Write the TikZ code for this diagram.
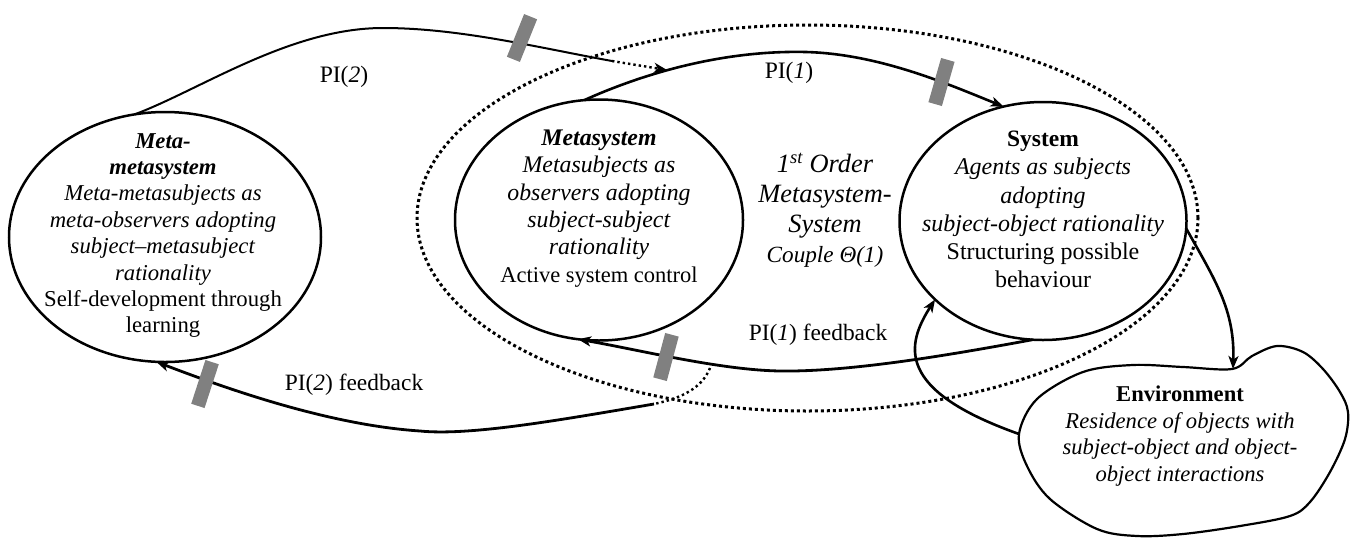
\documentclass[tikz,border=0pt]{standalone}
\usepackage{fontspec}
\setmainfont{Liberation Serif}
\usetikzlibrary{shapes.geometric,arrows.meta}
\definecolor{barGray}{HTML}{808080}
\begin{document}
\begin{tikzpicture}[x=1pt,y=-1pt,
  ell/.style={draw, ellipse, line width=2.5pt, inner sep=0pt, outer sep=0pt},
  couplering/.style={draw, ellipse, line width=3pt, dash pattern=on 3pt off 3pt, inner sep=0pt},
  txt/.style={align=center, inner sep=0pt},
  tip/.style={-{Stealth[length=13pt,width=10pt,inset=3.5pt]}},
  conn/.style={line width=2.6pt, tip},
  thinconn/.style={line width=2pt},
  dotconn/.style={line width=2.4pt, dash pattern=on 2.4pt off 3pt},
  graybar/.style={fill=barGray, draw=none, minimum width=14pt, minimum height=46pt, inner sep=0pt},
  blob/.style={draw, line width=2.2pt},
]
\useasboundingbox (0,0) rectangle (1350,539);

% first order couple (dotted)
\node[couplering, minimum width=781pt, minimum height=386pt] (couple) at (807.5,218) {};

% ellipses
\node[ell, minimum width=312pt, minimum height=250pt] (mm) at (165,237) {};
\node[ell, minimum width=288pt, minimum height=241pt] (ms) at (599,220) {};
\node[ell, minimum width=287pt, minimum height=238pt] (sys) at (1043,221) {};

% environment blob
\draw[blob] plot[smooth cycle, tension=0.55] coordinates {
 (1019,434) (1037,399) (1083,372) (1133,365) (1183,367) (1232,369)
 (1252,356) (1277,346) (1303,352) (1323,369) (1340,392) (1348,412)
 (1345,439) (1330,472) (1310,502) (1290,516) (1240,526) (1183,534)
 (1137,536) (1097,529) (1050,499) (1027,466)};
\coordinate (envL) at (1019,434);
\coordinate (envT) at (1233,369);

% helper coordinates
\coordinate (pi2cross) at (612,61);
\coordinate (pi2end) at (667,70);
\coordinate (pi2fbstart) at (710,368);
\coordinate (pi2fbcross) at (654,404);

% PI(2)
\draw[thinconn] (mm.104) .. controls (200,90) and (290,28) .. (383,28)
  .. controls (460,28) and (540,48) .. (pi2cross);
\draw[dotconn, tip] (pi2cross) -- (pi2end);

% PI(1)
\draw[conn] (ms.97) .. controls (640,75) and (720,50) .. (806,52)
  .. controls (880,54) and (950,85) .. (sys.109);

% PI(1) feedback
\draw[conn, line width=2.8pt] (sys.265) .. controls (950,355) and (850,372) .. (780,371)
  .. controls (720,370) and (640,350) .. (ms.260);

% PI(2) feedback
\draw[dotconn] (pi2fbstart) .. controls (702,388) and (682,398) .. (pi2fbcross);
\draw[conn, line width=2.8pt] (pi2fbcross) .. controls (560,420) and (470,436) .. (420,431)
  .. controls (330,425) and (230,390) .. (mm.266);

% System -> Environment
\draw[conn] (sys.-3) .. controls (1215,280) and (1235,310) .. (envT);

% Environment -> System
\draw[conn] (envL) .. controls (895,390) and (906,345) .. (sys.216);

% gray bars
\node[graybar, rotate=-22] (bar1) at (522,38) {};
\node[graybar, rotate=-16] (bar2) at (941.5,82) {};
\node[graybar, rotate=-15] (bar3) at (666,357) {};
\node[graybar, rotate=-18] (bar4) at (205,384) {};

% texts
\node[txt, font=\fontsize{22.7}{26.4}\selectfont] (mmtxt) at (163,235.5) {%
\textbf{\textit{Meta-}}\\
\textbf{\textit{metasystem}}\\
\textit{Meta-metasubjects as}\\
\textit{meta-observers adopting}\\
\textit{subject–metasubject}\\
\textit{rationality}\\
Self-development through\\
learning};

\node[txt, font=\fontsize{23.8}{27.4}\selectfont] (mstxt) at (599,208.5) {%
\textbf{\textit{Metasystem}}\\
\textit{Metasubjects as}\\
\textit{observers adopting}\\
\textit{subject-subject}\\
\textit{rationality}\\
{\fontsize{22.5}{27.4}\selectfont Active system control}};

\node[txt, font=\fontsize{24}{28.2}\selectfont] (systxt) at (1043,209.5) {%
{\fontsize{23.5}{28.2}\selectfont\textbf{System}}\\
\textit{Agents as subjects}\\
\textit{adopting}\\
\textit{subject-object rationality}\\
Structuring possible\\
behaviour};

\node[txt, font=\fontsize{26.4}{30}\selectfont\itshape] (coupletxt) at (825,210) {%
1\textsuperscript{st} Order\\
Metasystem-\\
System\\
{\fontsize{23.2}{30}\selectfont Couple Θ(1)}};

\node[txt, font=\fontsize{22.6}{26.7}\selectfont] (envtxt) at (1180,436) {%
\textbf{Environment}\\
\textit{Residence of objects with}\\
\textit{subject-object and object-}\\
\textit{object interactions}};

\node[txt, font=\fontsize{23.6}{28}\selectfont] (pi2lbl) at (344,77) {PI(\textit{2})};
\node[txt, font=\fontsize{23.6}{28}\selectfont] (pi1lbl) at (789,73) {PI(\textit{1})};
\node[txt, font=\fontsize{23.4}{28}\selectfont] (pi1fblbl) at (818,335) {PI(\textit{1}) feedback};
\node[txt, font=\fontsize{23.4}{28}\selectfont] (pi2fblbl) at (354,385) {PI(\textit{2}) feedback};
\end{tikzpicture}
\end{document}
